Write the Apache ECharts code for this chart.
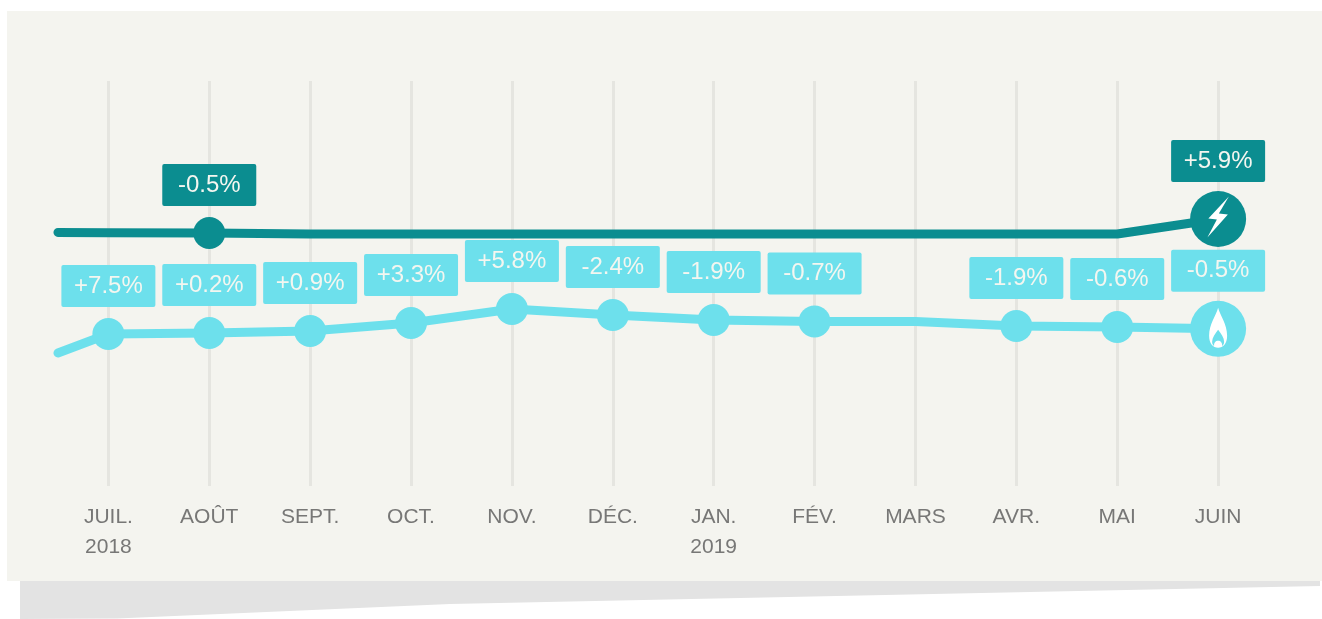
<!DOCTYPE html>
<html><head><meta charset="utf-8">
<style>html,body{margin:0;padding:0;background:#fff}#c{width:1322px;height:619px}</style>
<script src="https://cdn.jsdelivr.net/npm/echarts@6/dist/echarts.min.js"></script>
</head><body><div id="c"></div>
<script>
const months = ['JUIL.','AOÛT','SEPT.','OCT.','NOV.','DÉC.','JAN.','FÉV.','MARS','AVR.','MAI','JUIN'];
const years = ['2018','','','','','','2019','','','','',''];
const elecStart = 253.6;
const elecValues = [253.3,253,252,252,252,252,252,252,252,252,252,267];
const elecLabels = ['','-0.5%','','','','','','','','','','+5.9%'];
const gasStart = 133;
const gasValues = [152,153,155,163,177,171,166,164.5,164.5,160,159,157.2];
const gasLabels = ['+7.5%','+0.2%','+0.9%','+3.3%','+5.8%','-2.4%','-1.9%','-0.7%','','-1.9%','-0.6%','-0.5%'];

const DARK = '#0b8d90', LIGHT = '#6de0ec', PANEL = '#f4f4ef', GRID = '#e5e5e0', TEXT = '#777776', LABEL_TEXT = '#f4f6f0';
const LAST = months.length - 1;
const BOLT = 'path://M21.5 0L1 22L9.5 23L0 41L20.5 18L11.5 17Z';
const FLAME = 'path://M9 0C11 8 18 16 18 28C18 36 14 40 9 40C4 40 0 36 0 28C0 16 7 8 9 0Z' +
  'M9 22C6 26 3 30 3 34C3 36 3.8 37.5 5 38.3C4.6 35 6.5 33 9 33C11.5 33 13.4 35 13 38.3C14.2 37.5 15 36 15 34C15 30 12 26 9 22Z';

function buildData(start, values, labels, color) {
  const out = [{ value: [-0.5, start], symbol: 'none', label: { show: false } }];
  values.forEach((v, i) => {
    const txt = labels[i], big = i === LAST;
    out.push({
      value: [i, v],
      symbol: txt ? 'circle' : 'none',
      symbolSize: big ? 56 : 32,
      label: {
        show: !!txt, formatter: txt, position: 'top', distance: big ? 30 : 32,
        width: 94, height: 42, lineHeight: 40, align: 'center', verticalAlign: 'middle',
        backgroundColor: color, borderRadius: 2, color: LABEL_TEXT,
        fontFamily: 'Liberation Sans', fontSize: 24
      }
    });
  });
  return out;
}
function lineSeries(name, start, values, labels, color, extra) {
  return Object.assign({
    name, type: 'line', data: buildData(start, values, labels, color),
    showSymbol: true, showAllSymbol: true, smooth: false, silent: true,
    itemStyle: { color, opacity: 1 },
    lineStyle: { color, width: 9, cap: 'round', join: 'round' }
  }, extra || {});
}
function iconSeries(symbol, size, value, offset) {
  return { type: 'scatter', silent: true, z: 5, symbol, symbolSize: size, symbolOffset: offset,
    itemStyle: { color: '#ffffff', opacity: 1 }, data: [[LAST, value]] };
}

const chart = echarts.init(document.getElementById('c'), null, { renderer: 'canvas' });
chart.setOption({
  animation: false,
  backgroundColor: '#ffffff',
  graphic: [
    { type: 'polygon', silent: true, z: -10, shape: { points: [[20,581],[1320,581],[1320,586],[450,604],[117,618.5],[20,619]] }, style: { fill: '#e3e3e3' } },
    { type: 'rect', silent: true, z: -9, shape: { x: 7, y: 11, width: 1315, height: 570 }, style: { fill: PANEL } }
  ],
  grid: { left: 7.5, width: 1313, top: 81, height: 405 },
  xAxis: {
    type: 'value', min: -1, max: 12, interval: 1,
    axisLine: { show: false }, axisTick: { show: false }, splitLine: { show: false },
    axisLabel: {
      margin: 16, lineHeight: 30, color: TEXT, fontFamily: 'Liberation Sans', fontSize: 21, hideOverlap: false,
      showMinLabel: true, showMaxLabel: true,
      formatter: v => { const m = months[v]; if (!m) return ''; return years[v] ? m + '\n' + years[v] : m; }
    }
  },
  yAxis: { type: 'value', min: 0, max: 405, show: false },
  series: [
    lineSeries('Gaz', gasStart, gasValues, gasLabels, LIGHT, {
      markLine: { silent: true, symbol: 'none', label: { show: false }, z: 0,
        lineStyle: { color: GRID, width: 3, type: 'solid' },
        data: months.map((m, i) => ({ xAxis: i })) }
    }),
    lineSeries('Électricité', elecStart, elecValues, elecLabels, DARK),
    iconSeries(BOLT, [21.5, 41], elecValues[LAST], [0, -2]),
    iconSeries(FLAME, [18, 40], gasValues[LAST], [0, -1])
  ]
});
</script></body></html>
